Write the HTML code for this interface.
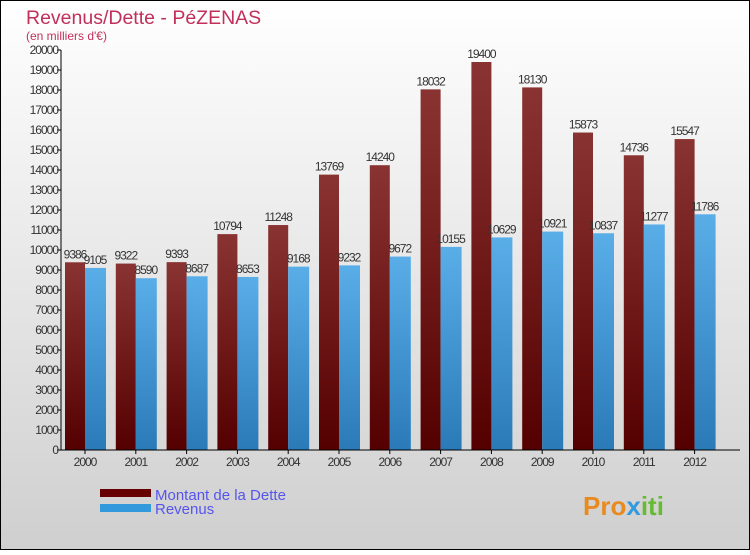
<!DOCTYPE html>
<html><head><meta charset="utf-8"><style>
body{margin:0}
svg text{font-family:"Liberation Sans",sans-serif}
</style></head><body>
<svg id="c" width="750" height="550" xmlns="http://www.w3.org/2000/svg">
<defs>
<linearGradient id="bg" x1="0" y1="0" x2="0" y2="1"><stop offset="0" stop-color="#ffffff"/><stop offset="1" stop-color="#cfcfcf"/></linearGradient>
<linearGradient id="gd" x1="0" y1="0" x2="0" y2="1"><stop offset="0" stop-color="#8a3333"/><stop offset="1" stop-color="#550000"/></linearGradient>
<linearGradient id="gr" x1="0" y1="0" x2="0" y2="1"><stop offset="0" stop-color="#5aaee8"/><stop offset="1" stop-color="#2a7ab8"/></linearGradient>
</defs>
<rect x="0.5" y="0.5" width="749" height="549" fill="url(#bg)" stroke="#000"/>
<text x="26" y="24" font-size="19.5" fill="#c0305a">Revenus/Dette - PéZENAS</text>
<text x="26" y="40" font-size="12" fill="#c0305a">(en milliers d'€)</text>
<g id="plot"></g>
<rect x="100" y="489" width="51" height="8" fill="#660000"/>
<text x="155" y="500" font-size="15" fill="#5555ee">Montant de la Dette</text>
<rect x="100" y="504" width="51" height="8" fill="#3399dd"/>
<text x="155" y="514" font-size="15" fill="#5555ee">Revenus</text>
<text x="583" y="515" font-size="26" font-weight="bold" fill="#e88a20">Pro<tspan fill="#3399dd">x</tspan><tspan fill="#66bb33">iti</tspan></text>
</svg>
<script>
const years=["2000","2001","2002","2003","2004","2005","2006","2007","2008","2009","2010","2011","2012"];
const dette=[9386,9322,9393,10794,11248,13769,14240,18032,19400,18130,15873,14736,15547];
const revenus=[9105,8590,8687,8653,9168,9232,9672,10155,10629,10921,10837,11277,11786];
const yTicks=[0,1000,2000,3000,4000,5000,6000,7000,8000,9000,10000,11000,12000,13000,14000,15000,16000,17000,18000,19000,20000];
const NS="http://www.w3.org/2000/svg";
const g=document.getElementById('plot');
const x0=61,yBase=450,yTop=50,gw=50.8;
const y=v=>yBase-(v/20000)*(yBase-yTop);
const gx=i=>x0+4+i*gw;
function mk(t,a,p){const e=document.createElementNS(NS,t);for(const k in a)e.setAttribute(k,a[k]);(p||g).appendChild(e);return e;}
yTicks.forEach(v=>{
 const l=mk('line',{x1:x0-4,x2:x0,y1:y(v),y2:y(v),stroke:'#000'});
 
 
 const t=mk('text',{x:x0-3,y:y(v)+4,'font-size':12,'text-anchor':'end',fill:'#333','letter-spacing':'-1'});
 t.textContent=v;
 
 
});
years.forEach((yr,i)=>{
 const bx=gx(i);
 const b1=mk('rect',{x:bx,y:y(dette[i]),width:20,height:yBase-y(dette[i]),fill:'url(#gd)'});
 
 
 const b2=mk('rect',{x:bx+20,y:y(revenus[i]),width:21,height:yBase-y(revenus[i]),fill:'url(#gr)'});
 
 
 const t1=mk('text',{x:bx+10,y:y(dette[i])-4,'font-size':12,'text-anchor':'middle',fill:'#333','letter-spacing':'-1'});
 t1.textContent=dette[i];
 
 
 const t2=mk('text',{x:bx+30,y:y(revenus[i])-4,'font-size':12,'text-anchor':'middle',fill:'#333','letter-spacing':'-1'});
 t2.textContent=revenus[i];
 
 
 const tk=mk('line',{x1:bx+20,x2:bx+20,y1:yBase,y2:yBase+4,stroke:'#000'});
 
 
 const xl=mk('text',{x:bx+20,y:yBase+16,'font-size':12,'text-anchor':'middle',fill:'#333','letter-spacing':'-1'});
 xl.textContent=yr;
 
 
});
const ya=mk('line',{x1:x0,x2:x0,y1:yTop,y2:yBase,stroke:'#000'});


const xa=mk('line',{x1:x0,x2:740,y1:yBase,y2:yBase,stroke:'#000'});


</script>
</body></html>
